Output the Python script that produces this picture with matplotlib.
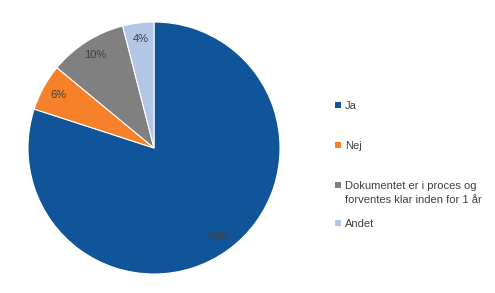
import matplotlib.pyplot as plt
from matplotlib.patches import Rectangle

labels = ["Ja", "Nej", "Dokumentet er i proces og\nforventes klar inden for 1 år", "Andet"]
values = [80, 6, 10, 4]
colors = ["#10549A", "#F7802A", "#808080", "#B3C6E6"]

plt.rcParams['font.family'] = ['Liberation Sans', 'DejaVu Sans']
W, H = 495, 293

fig = plt.figure(figsize=(4.95, 2.93), dpi=100)
# pie area: centre (154,148), radius 126 px
ax = fig.add_axes([28/W, 1 - 274/H, 252/W, 252/H])
wedges, texts, autotexts = ax.pie(values, colors=colors, startangle=90, counterclock=False,
                                  autopct='%1.0f%%', pctdistance=0.87,
                                  wedgeprops=dict(edgecolor='white', linewidth=0.8),
                                  textprops=dict(color='#404040', fontsize=8))
ax.set_xlim(-1, 1)
ax.set_ylim(-1, 1)
ax.set_aspect('equal')

# legend drawn by hand (Excel-style spacing), first-line centres in px
legend_y = [105, 145, 185, 223]
for lab, col, y in zip(labels, colors, legend_y):
    fig.patches.append(Rectangle((335/W, 1 - (y + 3)/H), 6/W, 6/H, facecolor=col,
                                 edgecolor='none', transform=fig.transFigure))
    fig.text(345/W, 1 - (y - 4)/H, lab, fontsize=8, color='#404040', va='top', ha='left',
             linespacing=1.45)

fig.savefig("out.png", dpi=100)
